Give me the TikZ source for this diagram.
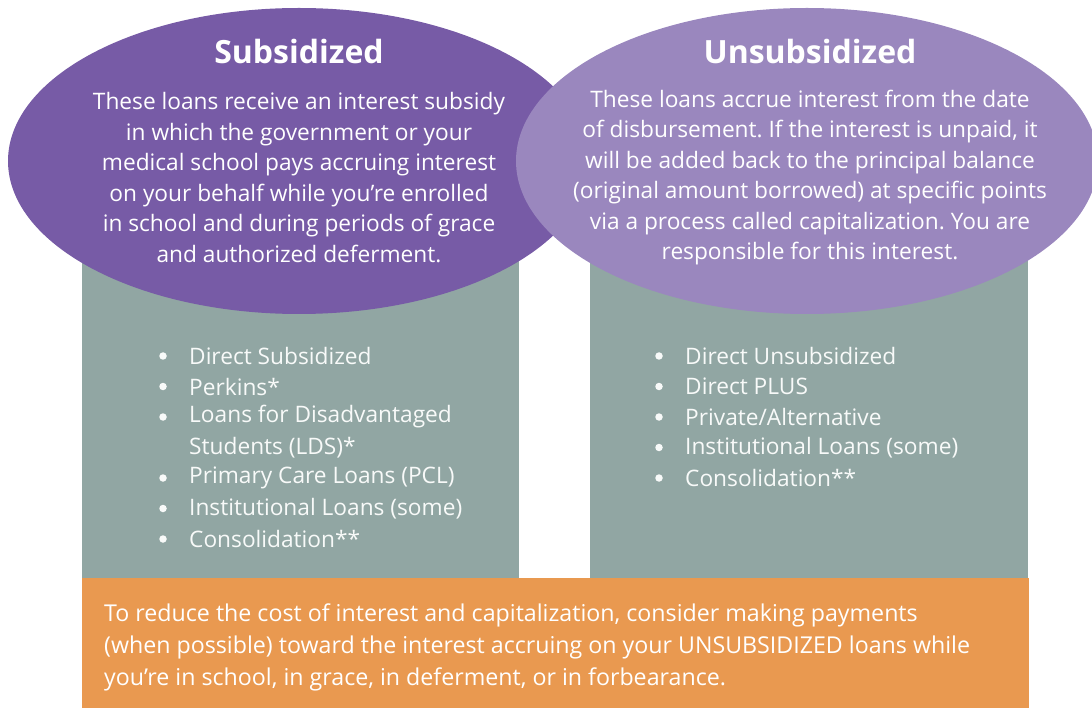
\documentclass[tikz,border=0pt]{standalone}
\usepackage{fontspec}
\setmainfont{Open Sans}
\usetikzlibrary{shapes.geometric}
\frenchspacing

\definecolor{subpurple}{HTML}{775BA6}
\definecolor{unsubpurple}{HTML}{9A87BE}
\definecolor{listgray}{HTML}{91A6A3}
\definecolor{tiporange}{HTML}{E99950}

\tikzset{
  loanoval/.style={ellipse, minimum width=582pt, minimum height=306pt, inner sep=0pt},
  ovaltitle/.style={text=white, inner sep=0pt, font=\fontsize{32}{38}\selectfont\bfseries},
  ovaltext/.style={text=white, align=center, inner sep=0pt, font=\fontsize{22.7}{30.5}\selectfont},
  loanitem/.style={anchor=west, text=white!94!listgray, inner sep=0pt, font=\fontsize{22.7}{30.5}\selectfont},
  bulletdot/.style={circle, fill=white!94!listgray, inner sep=0pt, minimum size=7.5pt},
  tiptext/.style={anchor=west, text=white, align=left, inner sep=0pt, font=\fontsize{23.2}{32}\selectfont}
}

\begin{document}
\begin{tikzpicture}[x=1pt,y=-1pt]
  \useasboundingbox (0,0) rectangle (1092,708);
  \clip (0,0) rectangle (1092,708);
  % gray columns and orange strip
  \fill[listgray] (82,200) rectangle (519,578);
  \fill[listgray] (590,200) rectangle (1028,578);
  \fill[tiporange] (82,578) rectangle (1029,708);
  % the two ovals
  \node[loanoval, fill=subpurple] (suboval) at (299,161) {};
  \node[loanoval, fill=unsubpurple] (unsuboval) at (807,161) {};
  \node[ovaltitle] (subtitle) at (299,52) {Subsidized};
  \node[ovaltitle] (unsubtitle) at (810,52) {Unsubsidized};
  \node[ovaltext] (subtext) at (299,177.5) {These loans receive an interest subsidy\\
    in which the government or your\\
    medical school pays accruing interest\\
    on your behalf while you’re enrolled\\
    in school and during periods of grace\\
    and authorized deferment.};
  \node[ovaltext] (unsubtext) at (810,177.5) {These loans accrue interest from the date\\
    of disbursement. If the interest is unpaid, it\\
    will be added back to the principal balance\\
    (original amount borrowed) at specific points\\
    via a process called capitalization. You are\\
    responsible for this interest.};
  % loan lists
  \foreach \t/\k in {Direct Subsidized/0, Perkins*/1, Loans for Disadvantaged/2,
      Primary Care Loans (PCL)/4, Institutional Loans (some)/5, Consolidation**/6} {
    \node[bulletdot] (subdot-\k) at (163,356+30.5*\k) {};
    \node[loanitem] (sub-\k) at (189,356+30.5*\k) {\t};
  }
  \node[loanitem] (sub-3) at (189,356+30.5*3) {Students (LDS)*};
  \foreach \t/\k in {Direct Unsubsidized/0, Direct PLUS/1, {Private/Alternative}/2,
      Institutional Loans (some)/3, Consolidation**/4} {
    \node[bulletdot] (unsubdot-\k) at (659,356+30.5*\k) {};
    \node[loanitem] (unsub-\k) at (685,356+30.5*\k) {\t};
  }
  % tip
  \node[tiptext] (tip) at (104,647) {To reduce the cost of interest and capitalization, consider making payments\\
    (when possible) toward the interest accruing on your UNSUBSIDIZED loans while\\
    you’re in school, in grace, in deferment, or in forbearance.};
\end{tikzpicture}
\end{document}
